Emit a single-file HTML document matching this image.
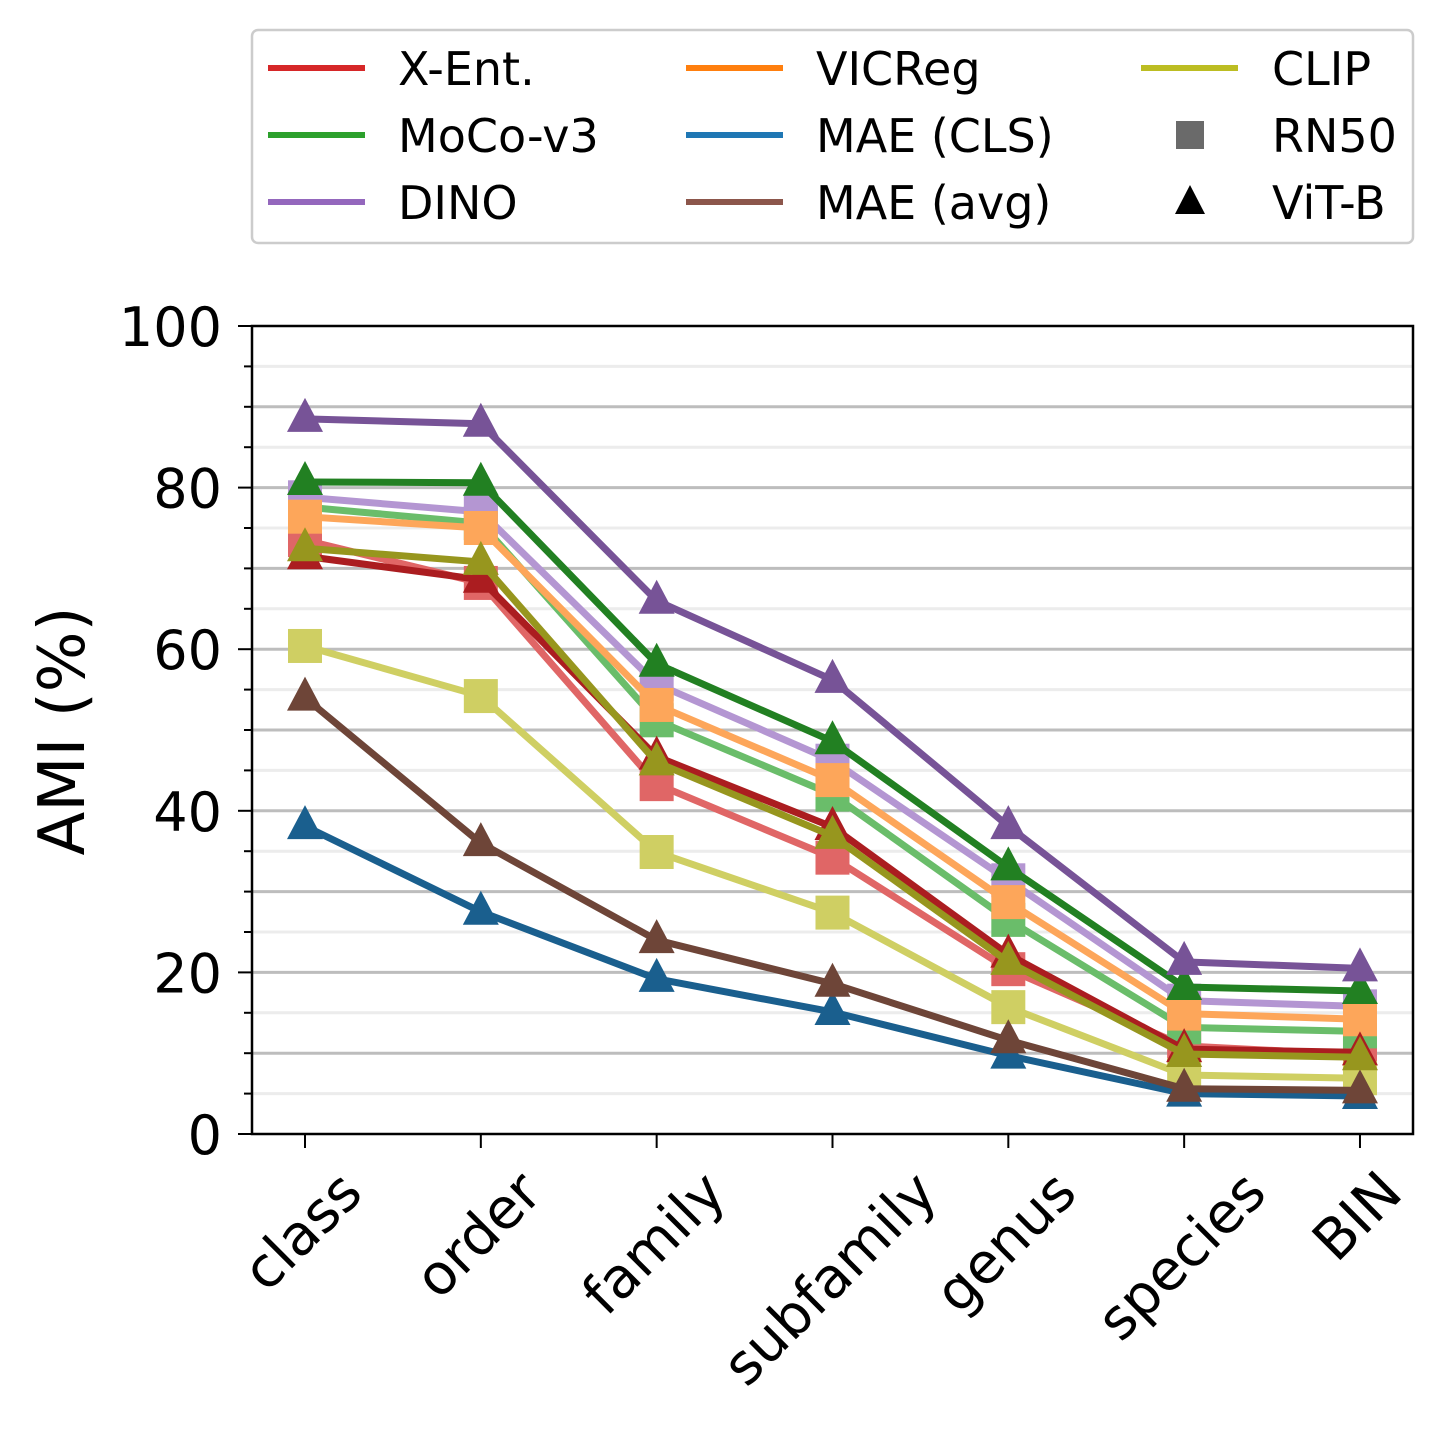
<!DOCTYPE html>
<html><head><meta charset="utf-8"><style>body{margin:0;background:#fff}svg{display:block;font-family:"DejaVu Sans","Liberation Sans",sans-serif}</style></head>
<body>
<svg id="chart" width="1447" height="1435" viewBox="0 0 1447 1435" xmlns="http://www.w3.org/2000/svg">
<g id="grid"></g>
<g id="series"></g>
<rect x="252" y="326" width="1161" height="808" fill="none" stroke="#000" stroke-width="2.5"/>
<g id="axes"></g>
<text transform="translate(84,731) rotate(-90)" text-anchor="middle" font-size="64">AMI (%)</text>
<g>
<rect x="252" y="30" width="1161" height="213" rx="6" fill="#fff" stroke="#ccc" stroke-width="2.5"/>
<g id="legend-items"></g>
</g>
</svg>
<script>
const categories = ["class","order","family","subfamily","genus","species","BIN"];
const yTicks = [0,20,40,60,80,100];
const xentRN = [73.5,68.2,43.3,34.2,20.4,10.9,9.8];
const mocoRN = [77.6,75.6,51.2,42.0,26.5,13.2,12.7];
const dinoRN = [78.8,77.0,55.7,46.2,31.4,16.5,15.8];
const vicregRN = [76.4,75.0,53.1,43.8,28.7,14.9,14.2];
const clipRN = [60.4,54.2,34.9,27.4,15.7,7.3,6.9];
const xentViT = [71.5,68.6,46.7,38.0,22.2,10.5,10.1];
const mocoViT = [80.7,80.6,58.2,48.6,33.0,18.2,17.7];
const dinoViT = [88.5,87.9,66.0,56.2,38.1,21.3,20.5];
const clipViT = [72.5,70.8,46.0,36.9,21.3,9.9,9.5];
const maeClsViT = [38.1,27.5,19.2,15.1,9.7,5.0,4.7];
const maeAvgViT = [54.0,36.0,24.0,18.6,11.6,5.6,5.4];

const NS="http://www.w3.org/2000/svg";
const X0=305, DX=175.83, Y0=1134, PY=8.08;
const xs=i=>X0+i*DX, ys=v=>Y0-v*PY;
function mk(tag,attrs,parent){const e=document.createElementNS(NS,tag);for(const k in attrs)e.setAttribute(k,attrs[k]);parent.appendChild(e);return e;}
const grid=document.getElementById('grid'), axes=document.getElementById('axes'), ser=document.getElementById('series');
for(let v=5;v<100;v+=5){
  const g=mk('line',{x1:252,x2:1413,y1:ys(v),y2:ys(v),stroke:v%10===0?'#bdbdbd':'#ececec','stroke-width':3},grid);
  
  
}
for(let v=0;v<=100;v+=5){
  const major=v%20===0;
  const t=mk('line',{x1:major?238:244,x2:252,y1:ys(v),y2:ys(v),stroke:'#000','stroke-width':2},axes);
  
  
}
yTicks.forEach(v=>{
  const t=mk('text',{x:222,y:ys(v)+20,'text-anchor':'end','font-size':54},axes);
  t.textContent=v;
  
  
});
const FS=56;
categories.forEach((c,i)=>{
  const t=mk('line',{x1:xs(i),x2:xs(i),y1:1134,y2:1148,stroke:'#000','stroke-width':2},axes);
  
  
  const l=mk('text',{'text-anchor':'middle','font-size':FS},axes);
  l.textContent=c;
  
  
  const L=l.getComputedTextLength();
  const cy=1170+(L+0.75*FS)*0.7071/2;
  l.setAttribute('transform',`translate(${xs(i)},${cy}) rotate(-45) translate(0,${0.27*FS})`);
});
function marker(kind,x,y,color,parent){
  if(kind==='s') return mk('rect',{x:x-17,y:y-17,width:34,height:34,fill:color},parent);
  return mk('polygon',{points:`${x},${y-21} ${x-18},${y+13} ${x+18},${y+13}`,fill:color},parent);
}
function series(vals,color,kind,name){
  const g=mk('g',{},ser);
  
  
  const p=mk('polyline',{points:vals.map((v,i)=>xs(i)+','+ys(v)).join(' '),fill:'none',stroke:color,'stroke-width':7,'stroke-linejoin':'round'},g);
  
  
  vals.forEach((v,i)=>{
    const m=marker(kind,xs(i),ys(v),color,g);
    
    
  });
}
series(xentRN,'#e06666','s','x-ent-rn50');
series(mocoRN,'#6abd6a','s','moco-rn50');
series(dinoRN,'#b496d2','s','dino-rn50');
series(vicregRN,'#fda65a','s','vicreg-rn50');
series(clipRN,'#cfcf63','s','clip-rn50');
series(maeClsViT,'#1a5f8e','t','mae-cls-vitb');
series(maeAvgViT,'#6e4538','t','mae-avg-vitb');
series(xentViT,'#ab1d20','t','x-ent-vitb');
series(clipViT,'#97961e','t','clip-vitb');
series(mocoViT,'#228022','t','moco-vitb');
series(dinoViT,'#775397','t','dino-vitb');

const legendLabels=["X-Ent.","MoCo-v3","DINO","VICReg","MAE (CLS)","MAE (avg)","CLIP"];
const legendColors=['#d62728','#2ca02c','#9467bd','#ff7f0e','#1f77b4','#8c564b','#bcbd22'];
const li=document.getElementById('legend-items');
const colX=[268,686,1141], textX=[398,816,1272], rowY=[68,135,202];
legendLabels.forEach((lab,i)=>{
  const c=Math.floor(i/3), r=i%3;
  const g=mk('g',{},li);
  
  
  mk('line',{x1:colX[c],x2:colX[c]+97,y1:rowY[r],y2:rowY[r],stroke:legendColors[i],'stroke-width':6},g);
  const t=mk('text',{x:textX[c],y:rowY[r]+17,'font-size':46},g);
  t.textContent=lab;
});
[['s','RN50'],['t','ViT-B']].forEach((m,j)=>{
  const g=mk('g',{},li);
  
  
  const y=rowY[j+1];
  if(m[0]==='s') mk('rect',{x:1176,y:y-14,width:28,height:28,fill:'#6a6a6a'},g);
  else mk('polygon',{points:`1190,${y-17} 1175,${y+12} 1205,${y+12}`,fill:'#000'},g);
  const t=mk('text',{x:1272,y:y+17,'font-size':46},g);
  t.textContent=m[1];
});
</script>
</body></html>
